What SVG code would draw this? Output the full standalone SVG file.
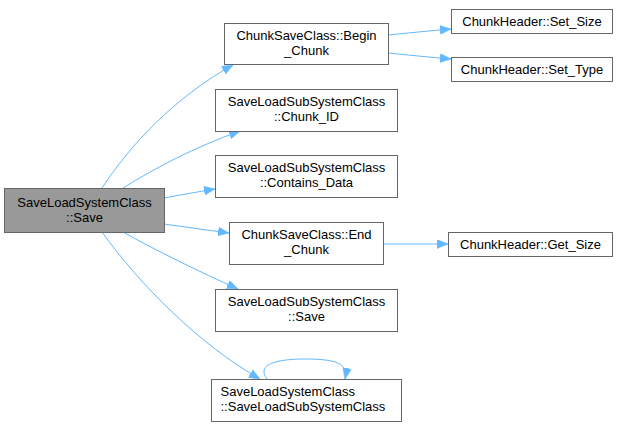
<svg xmlns="http://www.w3.org/2000/svg" width="619" height="428" viewBox="0 0 619 428">
<style>
.n rect{fill:#fff;stroke:#666;stroke-width:1}
.n.main rect{fill:#999}
.n text{font-family:"Liberation Sans",Arial,sans-serif;font-size:13px;fill:#000;text-anchor:middle}
.e path{fill:none;stroke:#63b8ff;stroke-width:1;marker-end:url(#ah)}
</style>
<defs>
<marker id="ah" markerUnits="userSpaceOnUse" markerWidth="12" markerHeight="9" refX="11" refY="4.5" orient="auto">
<path d="M0,0 L11,4.5 L0,9 z" fill="#63b8ff" stroke="#63b8ff" stroke-width="0.5"/>
</marker>
</defs>
<g id="edges" class="e">
<path d="M102,188 C130,145 175,97 233,65"/>
<path d="M123,188 C155,168 195,147 240,131"/>
<path d="M164,198 C180,195 197,192 215,189"/>
<path d="M164,224 C185,227 207,230 229,233"/>
<path d="M123,232 C155,250 200,272 238,289"/>
<path d="M102,232 C140,285 200,345 260,379"/>
<path d="M267,379 C257,366 272,359 305,359 C338,359 348,364 345,379"/>
<path d="M388,35 C408,33 428,31 451,29"/>
<path d="M388,53 C408,55 428,57 451,59"/>
<path d="M383,244 L448,244"/>
</g>
<g id="main" class="n main"><rect x="4.5" y="188.5" width="160" height="44"/><text x="84.5" y="207">SaveLoadSystemClass</text><text x="84.5" y="222">::Save</text></g>
<g id="begin_chunk" class="n"><rect x="224.5" y="23.5" width="164" height="41"/><text x="306.5" y="40">ChunkSaveClass::Begin</text><text x="306.5" y="55">_Chunk</text></g>
<g id="chunk_id" class="n"><rect x="215.5" y="89.5" width="182" height="42"/><text x="306.5" y="106">SaveLoadSubSystemClass</text><text x="306.5" y="121">::Chunk_ID</text></g>
<g id="contains_data" class="n"><rect x="215.5" y="155.5" width="182" height="42"/><text x="306.5" y="172">SaveLoadSubSystemClass</text><text x="306.5" y="187">::Contains_Data</text></g>
<g id="end_chunk" class="n"><rect x="229.5" y="222.5" width="154" height="42"/><text x="306.5" y="239">ChunkSaveClass::End</text><text x="306.5" y="254">_Chunk</text></g>
<g id="sub_save" class="n"><rect x="215.5" y="289.5" width="182" height="42"/><text x="306.5" y="306">SaveLoadSubSystemClass</text><text x="306.5" y="321">::Save</text></g>
<g id="ctor" class="n"><rect x="211.5" y="379.5" width="190" height="42"/><text x="306.5" y="396" style="text-anchor:start" transform="translate(-86,0)">SaveLoadSystemClass</text><text x="306.5" y="411" style="text-anchor:start" transform="translate(-86,0)">::SaveLoadSubSystemClass</text></g>
<g id="set_size" class="n"><rect x="451.5" y="9.5" width="161" height="24"/><text x="532" y="26">ChunkHeader::Set_Size</text></g>
<g id="set_type" class="n"><rect x="451.5" y="57.5" width="161" height="24"/><text x="532" y="74">ChunkHeader::Set_Type</text></g>
<g id="get_size" class="n"><rect x="448.5" y="232.5" width="164" height="24"/><text x="530.5" y="249">ChunkHeader::Get_Size</text></g>
</svg>
